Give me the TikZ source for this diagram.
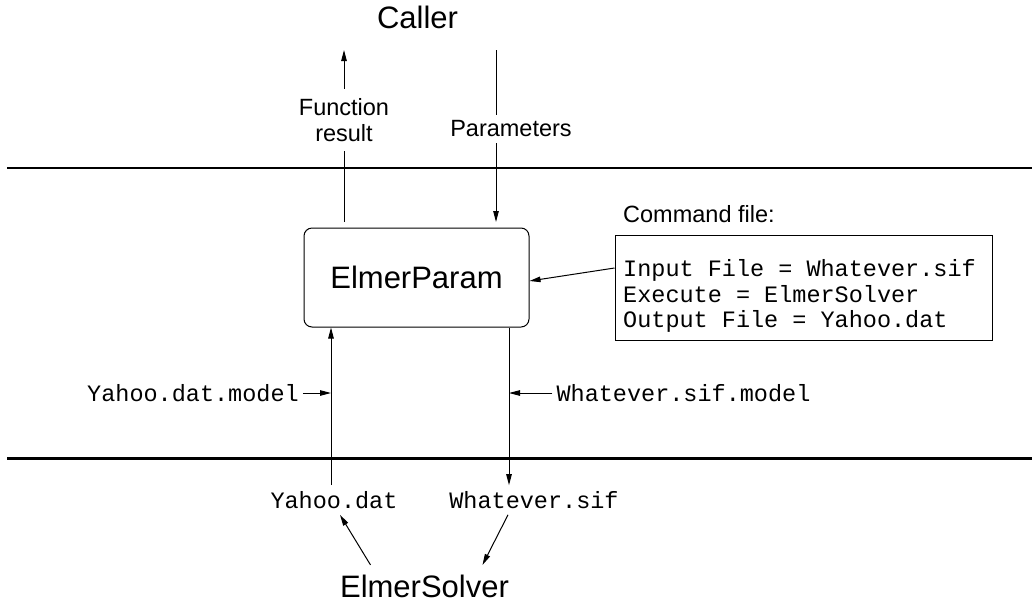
\documentclass[tikz,border=0pt]{standalone}
\usepackage{fontspec}
\setmainfont{Liberation Sans}
\setmonofont{Liberation Mono}
\usepackage{tikz}
\usetikzlibrary{arrows.meta, positioning, calc}
\newcommand{\bigsf}{\fontsize{31}{36}\selectfont}
\newcommand{\smallsf}{\fontsize{23.5}{26}\selectfont}
\newcommand{\codett}{\ttfamily\fontsize{23.5}{25.5}\selectfont}

\begin{document}
\begin{tikzpicture}[
  x=1pt, y=-1pt,
  every node/.style={inner sep=3pt},
  epbox/.style={rectangle, rounded corners=8pt, draw, line width=1pt, minimum width=225pt, minimum height=99pt, font=\bigsf},
  cmdbox/.style={rectangle, draw, line width=1pt, minimum width=377pt, minimum height=105pt},
  bigtext/.style={font=\bigsf},
  sanslbl/.style={font=\smallsf, align=center, inner sep=0pt},
  monolbl/.style={font=\codett, inner sep=4pt},
  arr/.style={-{Triangle[length=11pt, width=5.5pt]}, line width=1pt},
  plain/.style={line width=1pt},
  sepline/.style={line width=2.3pt}
]
  \useasboundingbox (0,0) rectangle (1032,603);

  % layer borders
  \draw[sepline] (7,168) -- (1032,168);
  \draw[sepline] (7,458.5) -- (1032,458.5);

  \node[bigtext] (caller) at (417.5,17.5) {Caller};
  \node[epbox] (ep) at (416.5,277.5) {ElmerParam};
  \node[bigtext, inner sep=10pt] (solver) at (424.5,586.5) {ElmerSolver};

  % caller side
  \coordinate (frTop) at (344,50);
  \coordinate (frFoot) at (344,222);
  \coordinate (paTop) at (496,50);
  \coordinate (paFoot) at (496,222);
  \node[sanslbl, minimum height=62pt] (fres) at (344,120) {Function\\result};
  \node[sanslbl, minimum height=28pt] (par) at (511,129) {Parameters};
  \draw[plain] (frFoot) -- (fres.south);
  \draw[arr] (fres.north) -- (frTop);
  \draw[plain] (paTop) -- (par.north -| paTop);
  \draw[arr] (par.south -| paTop) -- (paFoot);

  % command file
  \node[font=\smallsf, anchor=base west, inner sep=0pt] (cmdlbl) at (623,222) {Command file:};
  \node[cmdbox] (cmd) at (803.5,287.5) {};
  \node[monolbl, align=left, anchor=north west, inner sep=0pt] (cmdtxt) at (623,259.5)
    {Input File = Whatever.sif\\Execute = ElmerSolver\\Output File = Yahoo.dat};
  \draw[arr] ([yshift=19.5pt]cmd.west) -- ([yshift=-3.5pt]ep.east);

  % solver side
  \coordinate (upX) at (331,0);
  \coordinate (downX) at (509,0);
  \node[monolbl] (ydm) at (193,393) {Yahoo.dat.model};
  \node[monolbl] (wsm) at (683.5,393) {Whatever.sif.model};
  \node[monolbl, inner sep=6pt] (ydat) at (334,500) {Yahoo.dat};
  \node[monolbl, inner sep=6pt] (wsif) at (534,500) {Whatever.sif};
  \draw[arr] (ydat.north -| upX) -- (ep.south -| upX);
  \draw[arr] (ep.south -| downX) -- (wsif.north -| downX);
  \draw[arr] (ydm.east) -- (ydm.east -| upX);
  \draw[arr] (wsm.west) -- (wsm.west -| downX);
  \draw[arr] ([xshift=-54pt]solver.north) -- ([xshift=6pt]ydat.south);
  \draw[arr] ([xshift=-26pt]wsif.south) -- ([xshift=58pt]solver.north);
\end{tikzpicture}
\end{document}
